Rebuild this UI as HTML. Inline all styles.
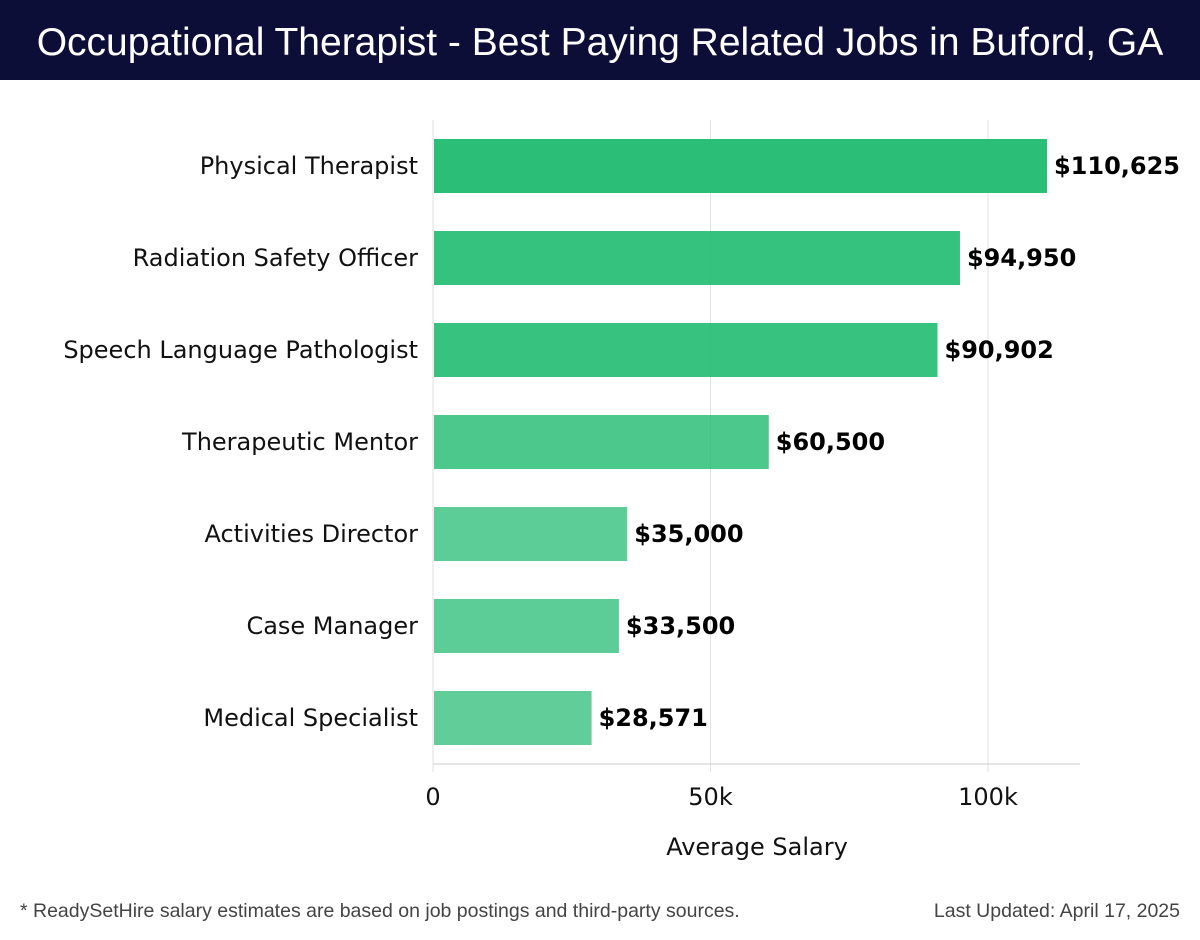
<!DOCTYPE html>
<html><head><meta charset="utf-8"><style>
body{margin:0;width:1200px;height:940px;background:#fff;font-family:"DejaVu Sans","Liberation Sans",sans-serif;overflow:hidden}
#hdr{position:absolute;left:0;top:0;width:1200px;height:80px;background:#0c0e38;color:#fff;font-size:39px;text-align:center;line-height:86px;font-family:"Liberation Sans",sans-serif}
.foot{position:absolute;top:900px;font-size:19.5px;color:#444;font-family:"Liberation Sans",sans-serif}
</style></head><body>
<div id="hdr">Occupational Therapist - Best Paying Related Jobs in Buford, GA</div>
<svg id="c" width="1200" height="940" style="position:absolute;left:0;top:0"></svg>
<div class="foot" style="left:20px">* ReadySetHire salary estimates are based on job postings and third-party sources.</div>
<div class="foot" style="right:20px">Last Updated: April 17, 2025</div>
<script>
const categories=["Physical Therapist","Radiation Safety Officer","Speech Language Pathologist","Therapeutic Mentor","Activities Director","Case Manager","Medical Specialist"];
const values=[110625,94950,90902,60500,35000,33500,28571];
const valueLabels=["$110,625","$94,950","$90,902","$60,500","$35,000","$33,500","$28,571"];
const tickValues=[0,50000,100000];
const tickLabels=["0","50k","100k"];
const svg=document.getElementById('c');const NS="http://www.w3.org/2000/svg";
const x0=433,pxPer=(988-433)/100000,yTop=120,band=92,barH=54;
const x=v=>x0+v*pxPer;const yc=i=>166+i*band;
function mk(t,a,p){const e=document.createElementNS(NS,t);for(const k in a)e.setAttribute(k,a[k]);(p||svg).appendChild(e);return e;}
tickValues.forEach((t,i)=>{
 const g=mk('line',{x1:x(t),x2:x(t),y1:yTop,y2:772,stroke:'#e2e2e2','stroke-width':1});
 
 
 const tx=mk('text',{x:x(t),y:805,'text-anchor':'middle','font-size':24,fill:'#111'});tx.textContent=tickLabels[i];
 
 
});
const ax=mk('line',{x1:x0,x2:1080,y1:764,y2:764,stroke:'#ccc'});


const max=Math.max(...values);
values.forEach((v,i)=>{
 const op=0.62+0.33*v/max;
 const r=mk('rect',{x:x0+1,y:yc(i)-barH/2,width:x(v)-x0-1,height:barH,fill:'#1fba70','fill-opacity':op});
 
 
 const l=mk('text',{x:x(v)+7,y:yc(i)+8,'font-size':24,'font-weight':'bold',fill:'#000'});l.textContent=valueLabels[i];
 
 
 const c=mk('text',{x:418,y:yc(i)+8,'text-anchor':'end','font-size':24,fill:'#111'});c.textContent=categories[i];
 
 
});
const at=mk('text',{x:757,y:855,'text-anchor':'middle','font-size':24,fill:'#111'});at.textContent="Average Salary";


</script>
</body></html>
